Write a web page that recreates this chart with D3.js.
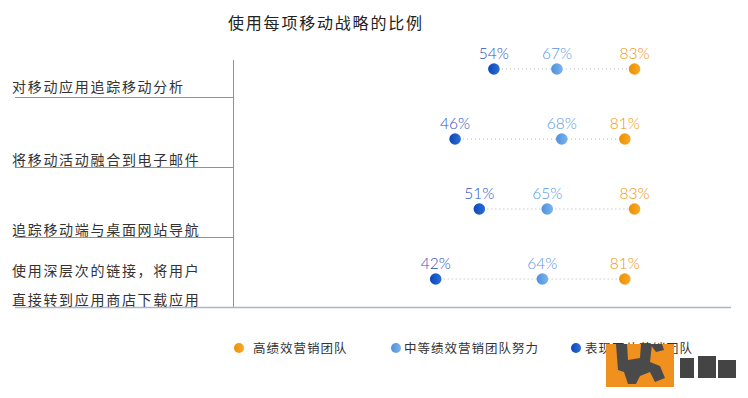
<!DOCTYPE html>
<html>
<head>
<meta charset="utf-8">
<script src="https://cdn.jsdelivr.net/npm/d3@7"></script>
<style>
  body { margin: 0; background: #fff; }
  text { font-family: "Noto Sans CJK SC", "Noto Sans", sans-serif; }
</style>
</head>
<body>
<div id="chart"></div>
<script>
const categories = [
  ["对移动应用追踪移动分析"],
  ["将移动活动融合到电子邮件"],
  ["追踪移动端与桌面网站导航"],
  ["使用深层次的链接，将用户", "直接转到应用商店下载应用"]
];
const lowPerf = [54, 46, 51, 42];
const midPerf = [67, 68, 65, 64];
const highPerf = [83, 81, 83, 81];
const seriesNames = ["高绩效营销团队", "中等绩效营销团队努力", "表现不佳营销团队"];

const width = 748, height = 398;
const svg = d3.select("#chart").append("svg")
  .attr("width", width).attr("height", height);

// gradients for the dots
const colors = { high: ["#f7ab2a", "#ee8f00"], mid: ["#7ab4ee", "#4f8fdc"], low: ["#2a6fd8", "#0d47b8"] };
const defs = svg.append("defs");
Object.entries(colors).forEach(([k, c]) => {
  const g = defs.append("linearGradient").attr("id", "g-" + k)
    .attr("x1", "0%").attr("x2", "100%").attr("y1", "0%").attr("y2", "0%");
  g.append("stop").attr("offset", "0%").attr("stop-color", c[1]);
  g.append("stop").attr("offset", "100%").attr("stop-color", c[0]);
});

const x = d3.scaleLinear().domain([0, 100]).range([232, 717]);
const y = d3.scaleBand().domain(d3.range(categories.length)).range([28, 308]);

svg.append("text")
  .attr("x", 228).attr("y", 29)
  .style("font-size", "16px").style("letter-spacing", "1.8px")
  .style("fill", "#222")
  .text("使用每项移动战略的比例");

// axis lines
svg.append("line")
  .attr("x1", 233.5).attr("x2", 233.5).attr("y1", 60).attr("y2", 308)
  .attr("stroke", "#7f96b2").attr("stroke-width", 1);
categories.forEach((c, i) => {
  const yy = Math.round(y(i) + y.bandwidth()) - 0.5;
  svg.append("line")
    .attr("x1", 15).attr("x2", i === categories.length - 1 ? 731 : 233)
    .attr("y1", yy).attr("y2", yy)
    .attr("stroke", i === categories.length - 1 ? "#a9b8c8" : "#7f96b2")
    .attr("stroke-width", i === categories.length - 1 ? 1.5 : 1);
});

// category labels
categories.forEach((lines, i) => {
  const base = y(i) + y.bandwidth() - (i === 0 ? 6 : 3);
  lines.forEach((t, j) => {
    svg.append("text")
      .attr("x", 12)
      .attr("y", base - (lines.length - 1 - j) * 29)
      .style("font-size", "14px").style("letter-spacing", "1.7px")
      .style("fill", "#333")
      .text(t);
  });
});

const rows = categories.map((c, i) => ({
  i, low: lowPerf[i], mid: midPerf[i], high: highPerf[i]
}));
const dotY = i => y(i) + 41;

svg.selectAll("line.conn").data(rows).enter().append("line")
  .attr("class", "conn")
  .attr("x1", d => x(d.low)).attr("x2", d => x(d.high))
  .attr("y1", d => dotY(d.i)).attr("y2", d => dotY(d.i))
  .attr("stroke", "#b0b0b0").attr("stroke-width", 1)
  .attr("stroke-dasharray", "1,3");

const series = [
  { key: "low", color: "#1f4fc8" },
  { key: "mid", color: "#5a97e4" },
  { key: "high", color: "#f2930c" }
];
series.forEach(s => {
  svg.selectAll("circle." + s.key).data(rows).enter().append("circle")
    .attr("class", s.key)
    .attr("cx", d => x(d[s.key])).attr("cy", d => dotY(d.i))
    .attr("r", 5.8).attr("fill", "url(#g-" + s.key + ")");
  svg.selectAll("text." + s.key).data(rows).enter().append("text")
    .attr("class", s.key)
    .attr("x", d => x(d[s.key])).attr("y", d => dotY(d.i) - 10)
    .attr("text-anchor", "middle")
    .style("font-family", "Lato, 'Open Sans', sans-serif")
    .style("font-weight", 300)
    .style("font-size", "15.5px").style("fill", s.color)
    .text(d => d[s.key] + "%");
});

// legend
const legend = [
  { name: seriesNames[0], key: "high", cx: 239, tx: 253 },
  { name: seriesNames[1], key: "mid", cx: 396, tx: 404 },
  { name: seriesNames[2], key: "low", cx: 576, tx: 585 }
];
legend.forEach(l => {
  svg.append("circle").attr("cx", l.cx).attr("cy", 348).attr("r", 5)
    .attr("fill", "url(#g-" + l.key + ")");
  svg.append("text").attr("x", l.tx).attr("y", 353)
    .style("font-size", "12.5px").style("letter-spacing", "1px")
    .style("fill", "#333").text(l.name);
});

// watermark logo
const logo = svg.append("g");
logo.append("rect").attr("x", 606).attr("y", 344).attr("width", 68).attr("height", 43).attr("fill", "#f0901e");
logo.append("path").attr("d", "M616,344 L627,344 L628,360 L640,358 L641,344 L652,344 L650,362 L660,366 L665,378 L655,382 L650,372 L640,376 L636,384 L628,384 L624,372 L618,370 Z")
  .attr("fill", "#4a4a4a");
logo.append("path").attr("d", "M650,344 L662,344 L664,350 L656,352 Z").attr("fill", "#4a4a4a");
logo.append("rect").attr("x", 680).attr("y", 358).attr("width", 14).attr("height", 20).attr("fill", "#444");
logo.append("rect").attr("x", 698).attr("y", 356).attr("width", 18).attr("height", 22).attr("fill", "#444");
logo.append("rect").attr("x", 718).attr("y", 360).attr("width", 18).attr("height", 18).attr("fill", "#444");
</script>
</body>
</html>
